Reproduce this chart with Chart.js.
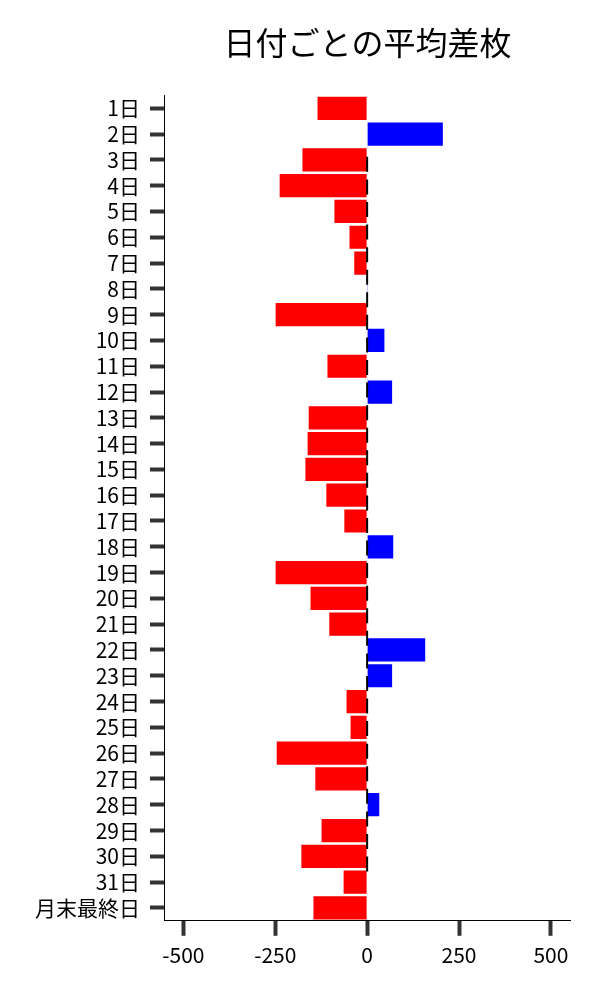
<!DOCTYPE html>
<html>
<head>
<meta charset="utf-8">
<script src="https://cdn.jsdelivr.net/npm/chart.js@4"></script>
<style>
  body { margin: 0; background: #fff; }
</style>
</head>
<body>
<canvas id="chart" width="600" height="1000"></canvas>
<script>
// days of the month plus the last business day
const days = [
  "1日", "2日", "3日", "4日", "5日", "6日", "7日", "8日", "9日", "10日",
  "11日", "12日", "13日", "14日", "15日", "16日", "17日", "18日", "19日", "20日",
  "21日", "22日", "23日", "24日", "25日", "26日", "27日", "28日", "29日", "30日",
  "31日", "月末最終日"
];

// average difference per day
const avgDiff = [
  -135, 206, -176, -238, -89, -48, -35, 2, -249, 47,
  -108, 68, -159, -162, -168, -111, -62, 71, -249, -154,
  -103, 158, 68, -56, -45, -246, -141, 33, -124, -179,
  -64, -146
];

const xTicks = [-500, -250, 0, 250, 500];

const barColors = avgDiff.map(v => (v >= 0 ? "#0000ff" : "#ff0000"));

// little black marks sitting on the zero line
const zeroMarks = days.map((d, i) => ({ x: 0, y: i + 0.27 }));

const font = "'Noto Sans CJK JP', 'Noto Sans', sans-serif";

new Chart(document.getElementById("chart"), {
  type: "bar",
  data: {
    labels: days,
    datasets: [
      {
        data: avgDiff,
        backgroundColor: barColors,
        borderWidth: 0,
        grouped: false,
        categoryPercentage: 0.9,
        barPercentage: 1.0,
        order: 1,
      },
      {
        type: "scatter",
        data: zeroMarks,
        yAxisID: "y2",
        pointStyle: "line",
        rotation: 90,
        radius: 7.5,
        hoverRadius: 7.5,
        borderWidth: 2,
        borderColor: "#000",
        order: 0,
      },
    ],
  },
  options: {
    indexAxis: "y",
    responsive: false,
    animation: false,
    layout: { padding: { left: 25, right: 30, bottom: 25, top: 0 } },
    plugins: {
      legend: { display: false },
      tooltip: { enabled: false },
      title: {
        display: true,
        text: "日付ごとの平均差枚",
        fullSize: false,
        color: "#000",
        font: { family: font, size: 32, weight: "normal" },
        padding: { top: 24, bottom: 33 },
      },
    },
    scales: {
      x: {
        min: -550,
        max: 552,
        afterBuildTicks: (axis) => {
          axis.ticks = xTicks.map(v => ({ value: v }));
        },
        ticks: {
          color: "#000",
          font: { family: font, size: 21 },
          padding: 7,
        },
        grid: {
          drawOnChartArea: false,
          tickLength: 15,
          tickWidth: 4,
          tickColor: "#333",
        },
        border: { color: "#000", width: 1 },
      },
      y: {
        ticks: {
          color: "#000",
          font: { family: font, size: 21 },
          padding: 10,
          autoSkip: false,
        },
        grid: {
          offset: false,
          drawOnChartArea: false,
          tickLength: 15,
          tickWidth: 4,
          tickColor: "#333",
        },
        border: { color: "#000", width: 1 },
      },
      y2: {
        type: "linear",
        display: false,
        min: -0.5,
        max: days.length - 0.5,
        reverse: true,
      },
    },
  },
});
</script>
</body>
</html>
